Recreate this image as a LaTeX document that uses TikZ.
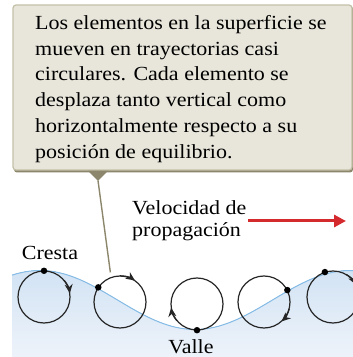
\documentclass[tikz,border=0pt]{standalone}
\usepackage{fontspec}
\setmainfont{Liberation Serif}[FakeStretch=1.1]
\usetikzlibrary{arrows.meta}

\definecolor{notefill}{HTML}{E8E6DB}
\definecolor{noteedge}{HTML}{C4C0A8}
\definecolor{noteshade}{HTML}{8C876C}
\definecolor{waterline}{HTML}{86BDE8}
\definecolor{watertop}{HTML}{D2E3F4}
\definecolor{waterbot}{HTML}{EEF3FA}
\definecolor{speedred}{HTML}{D42A2E}

\begin{document}
\begin{tikzpicture}
[
    x=1pt, y=1pt,
    every node/.style={font=\fontsize{20}{25.8}\selectfont, inner sep=0pt},
    orbit/.style={draw=black!85, line width=1.2pt},
    spin/.style={orbit, -{Stealth[length=9pt, width=8pt]}},
    particle/.style={circle, fill=black, minimum size=6.5pt}
]
    \useasboundingbox (0,0) rectangle (353,357);

    % agua bajo la superficie (longitud de onda 310, 360/310 = 1.16129)
    \fill[top color=watertop, bottom color=waterbot]
        plot[domain=12:353, samples=80] (\x, {57+29.5*cos(1.16129*(\x-40))})
        -- (353,0) -- (12,0) -- cycle;
    \draw[waterline, line width=1pt]
        plot[domain=12:353, samples=80] (\x, {57+29.5*cos(1.16129*(\x-40))});

    % recuadro con la explicacion
    \fill[noteshade, rounded corners=3pt] (14,184.5) rectangle (353,351);
    \draw[fill=notefill, draw=noteedge, line width=1.2pt, rounded corners=3pt]
        (13,187) rectangle (352,352);
    \fill[noteshade] (88,186) -- (108,186) -- (98,176) -- cycle;
    \coordinate (tip) at (98,176.5);
    \node[anchor=north west, align=left] (note) at (35,342)
        {Los elementos en la superficie se\\
         mueven en trayectorias casi\\
         circulares. Cada elemento se\\
         desplaza tanto vertical como\\
         horizontalmente respecto a su\\
         posici\'on de equilibrio.};

    % trayectorias circulares
    \begin{scope}
        \node[circle, minimum size=52pt] (c1) at (44,60) {};
        \node[circle, minimum size=52pt] (c2) at (120,55) {};
        \node[circle, minimum size=52pt] (c3) at (197,53) {};
        \node[circle, minimum size=52pt] (c4) at (264,55) {};
        \node[circle, minimum size=52pt] (c5) at (333,60) {};

        \draw[orbit] (c1) circle (26);
        \draw[orbit] (c2) circle (26);
        \draw[orbit] (c3) circle (26);
        \draw[orbit] (c4) circle (26);
        \draw[orbit] (c5) circle (26);

        \draw[spin] (c1.40) arc (40:8:26);
        \draw[spin] (c2.90) arc (90:55:26);
        \draw[spin] (c3.220) arc (220:188:26);
        \draw[spin] (c4.-15) arc (-15:-48:26);
        \draw[spin] (c5.60) arc (60:28:26);

        \node[particle] (p1) at (c1.90) {};
        \node[particle] (p2) at (c2.146) {};
        \node[particle] (p3) at (c3.270) {};
        \node[particle] (p4) at (c4.27) {};
        \node[particle] (p5) at (c5.108) {};
    \end{scope}

    % indicador hacia el elemento
    \draw[noteshade, line width=1.4pt, shorten >=5pt] (tip) -- (c2.110);

    % etiquetas
    \node[anchor=base] (crest) at (50,97) {Cresta};
    \node[anchor=base] (trough) at (191,3) {Valle};
    \node[anchor=base west, align=left, font=\fontsize{20}{22}\selectfont] (speed)
        at (132,120) {Velocidad de\\propagaci\'on};

    % velocidad de la onda
    \coordinate (arrowstart) at (248,136);
    \coordinate (arrowend) at (346,136);
    \draw[speedred, line width=3pt, -{Triangle[length=12pt, width=12pt]}]
        (arrowstart) -- (arrowend);
\end{tikzpicture}
\end{document}
